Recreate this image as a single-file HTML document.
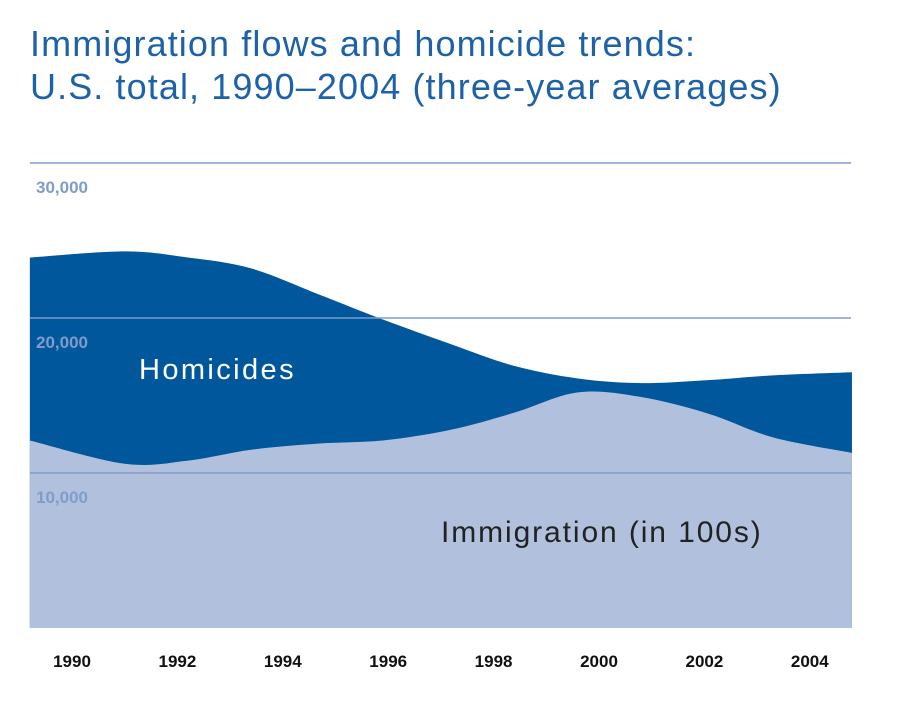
<!DOCTYPE html>
<html><head><meta charset="utf-8"><style>
body{margin:0;background:#fff;width:900px;height:712px;overflow:hidden;font-family:"Liberation Sans",sans-serif}
.t{position:absolute;left:30px;color:#1d62a8;font-size:36px;letter-spacing:1.1px;line-height:43px;top:22px}
</style></head><body>
<div class="t">Immigration flows and homicide trends:<br>U.S. total, 1990–2004 (three-year averages)</div>
<svg id="c" width="900" height="712" style="position:absolute;left:0;top:0"></svg>
<script>
const years=[1989.2,1991,1992.2,1993.4,1994.7,1995.9,1997.2,1998.4,1999.6,2000.8,2002.1,2003.3,2004.8];
const homicides=[23.9,24.3,23.9,23.2,21.5,19.9,18.3,16.9,16.1,15.8,16.0,16.3,16.5];
const immigration=[12.1,10.6,10.8,11.5,11.9,12.1,12.8,13.9,15.2,14.9,13.8,12.3,11.3];
const yTicks=[10,20,30];
const yTickLabels=["10,000","20,000","30,000"];
const xTicks=[1990,1992,1994,1996,1998,2000,2002,2004];
const NS="http://www.w3.org/2000/svg",svg=document.getElementById('c');
const x=yr=>72+(yr-1990)*52.7;
const y=v=>628-v*15.5;
function mk(t,a){const e=document.createElementNS(NS,t);for(const k in a)e.setAttribute(k,a[k]);svg.appendChild(e);return e;}
function path(vals){let p=vals.map((v,i)=>[x(years[i]),y(v)]);let d=`M${p[0][0]},${p[0][1]}`;
for(let i=0;i<p.length-1;i++){const p0=p[i-1]||p[i],p1=p[i],p2=p[i+1],p3=p[i+2]||p2;
d+=`C${p1[0]+(p2[0]-p0[0])/6},${p1[1]+(p2[1]-p0[1])/6} ${p2[0]-(p3[0]-p1[0])/6},${p2[1]-(p3[1]-p1[1])/6} ${p2[0]},${p2[1]}`;}return d;}
const x0=x(years[0]),x1=x(years[years.length-1]);
let e=mk('path',{d:path(homicides)+`L${x1},${y(0)}L${x0},${y(0)}Z`,fill:'#00579b'});

e=mk('path',{d:path(immigration)+`L${x1},${y(0)}L${x0},${y(0)}Z`,fill:'#b1c1dd'});

yTicks.forEach((v,i)=>{let l=mk('line',{x1:30,x2:851,y1:y(v),y2:y(v),stroke:'#7f9ccb','stroke-width':1.5});

let t=mk('text',{x:36,y:y(v)+30,fill:'#7f9ccb','font-size':17,'font-weight':'bold'});t.textContent=yTickLabels[i];
});
xTicks.forEach(v=>{let t=mk('text',{x:x(v),y:667,'text-anchor':'middle',fill:'#111','font-size':17,'font-weight':'bold'});t.textContent=v;
});
e=mk('text',{x:139,y:379,fill:'#fff','font-size':29,'letter-spacing':2.4});e.textContent='Homicides';

e=mk('text',{x:441,y:542,fill:'#222','font-size':30,'letter-spacing':1.9});e.textContent='Immigration (in 100s)';

</script>
</body></html>
